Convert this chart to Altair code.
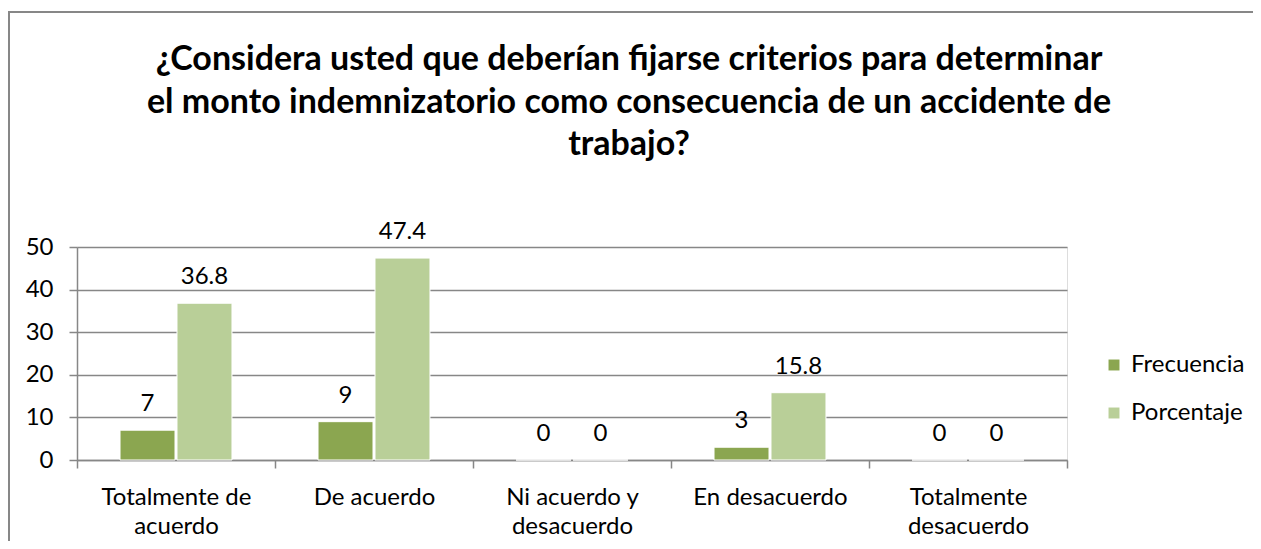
import altair as alt
import pandas as pd

categories = ["Totalmente de acuerdo", "De acuerdo", "Ni acuerdo y desacuerdo", "En desacuerdo", "Totalmente desacuerdo"]
label_lines = {
    "Totalmente de acuerdo": ["Totalmente de", "acuerdo"],
    "De acuerdo": ["De acuerdo"],
    "Ni acuerdo y desacuerdo": ["Ni acuerdo y", "desacuerdo"],
    "En desacuerdo": ["En desacuerdo"],
    "Totalmente desacuerdo": ["Totalmente", "desacuerdo"],
}
series = ["Frecuencia", "Porcentaje"]
frecuencia = [7, 9, 0, 3, 0]
porcentaje = [36.8, 47.4, 0, 15.8, 0]
colors = ["#8BA650", "#B9CF98"]
title_lines = [
    "¿Considera usted que deberían fijarse criterios para determinar",
    "el monto indemnizatorio como consecuencia de un accidente de",
    "trabajo?",
]

rows = []
for c, f, p in zip(categories, frecuencia, porcentaje):
    rows.append({"cat": c, "serie": series[0], "val": f})
    rows.append({"cat": c, "serie": series[1], "val": p})
df = pd.DataFrame(rows)

FONT = "Lato"
GRAY = "#878787"
FS = 24

label_expr = "{" + ",".join(
    "'%s': [%s]" % (k, ",".join("'%s'" % s for s in v)) for k, v in label_lines.items()
) + "}[datum.label]"

x_enc = alt.X(
    "cat:N", sort=categories, title=None,
    scale=alt.Scale(paddingInner=0, paddingOuter=0),
    axis=alt.Axis(
        labelAngle=0, labelExpr=label_expr, labelFont=FONT, labelFontSize=FS,
        labelColor="#000000", labelPadding=17, labelLineHeight=29,
        tickBand="extent", tickSize=8, tickColor=GRAY, tickWidth=1.5,
        domainColor=GRAY, domainWidth=1.5, grid=False,
    ),
)
y_enc = alt.Y(
    "val:Q", title=None,
    scale=alt.Scale(domain=[0, 50], nice=False),
    axis=alt.Axis(
        values=[0, 10, 20, 30, 40, 50], labelFont=FONT, labelFontSize=FS,
        labelColor="#000000", labelPadding=16, tickSize=8, tickColor=GRAY,
        tickWidth=1.5, domainColor=GRAY, domainWidth=1.5, grid=True,
        gridColor=GRAY, gridWidth=1.5,
    ),
)
xoff = alt.XOffset(
    "serie:N", sort=series,
    scale=alt.Scale(paddingInner=0.035, paddingOuter=0.755),
)

base = alt.Chart(df)
bars = base.mark_bar(stroke="white", strokeWidth=1).encode(
    x=x_enc, y=y_enc, xOffset=xoff,
    color=alt.Color(
        "serie:N", sort=series,
        scale=alt.Scale(domain=series, range=colors),
        legend=alt.Legend(
            title=None, orient="none", legendX=1025, legendY=106,
            symbolType="square", symbolSize=120, symbolStrokeWidth=0,
            labelFont=FONT, labelFontSize=FS, labelColor="#000000",
            labelOffset=5, rowPadding=24, padding=0,
        ),
    ),
)
texts = base.mark_text(
    font=FONT, fontSize=FS, color="#000000", baseline="alphabetic", dy=-19
).encode(
    x=alt.X("cat:N", sort=categories),
    y="val:Q",
    xOffset=xoff,
    text=alt.Text("val:Q"),
)

one = pd.DataFrame({"a": [0]})
title_layers = []
for i, line in enumerate(title_lines):
    title_layers.append(
        alt.Chart(one).mark_text(
            font=FONT, fontSize=34, fontWeight="bold", color="#000000",
            baseline="middle", align="center",
        ).encode(
            x=alt.value(552), y=alt.value(-187 + 42.5 * i), text=alt.value(line)
        )
    )

border_top = alt.Chart(one).mark_rule(color=GRAY, strokeWidth=2).encode(
    x=alt.value(-68), x2=alt.value(1200), y=alt.value(-235)
)
border_left = alt.Chart(one).mark_rule(color=GRAY, strokeWidth=2).encode(
    x=alt.value(-68), y=alt.value(-236), y2=alt.value(400)
)

chart = alt.layer(bars, texts, border_top, border_left, *title_layers).properties(
    width=990, height=213,
    autosize=alt.AutoSizeParams(type="none"),
    padding={"left": 69, "top": 239, "right": 186, "bottom": 81},
).configure_view(stroke=None).configure(background="white")

chart.save("out.html", embed_options={"renderer": "svg", "actions": False})
